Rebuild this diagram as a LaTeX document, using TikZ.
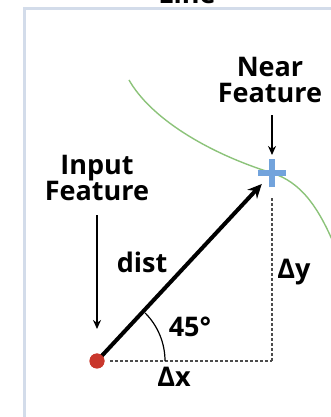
\documentclass[tikz,border=0pt]{standalone}
\usepackage{fontspec}
\setmainfont{Open Sans}
\usetikzlibrary{arrows.meta, shapes.misc}
\definecolor{framegray}{HTML}{D3DCEA}
\definecolor{curvegreen}{HTML}{8CC37A}
\definecolor{dotred}{HTML}{C9372C}
\definecolor{plusblue}{HTML}{72A3DC}
\tikzstyle{label} = [inner sep=0pt, align=center, font=\bfseries\fontsize{13.5}{13}\selectfont]
\tikzstyle{inputdot} = [circle, fill=dotred, inner sep=0pt, minimum size=7.5pt]
\tikzstyle{nearmark} = [cross out, draw=plusblue, line width=2.6pt, rotate=45, inner sep=0pt, minimum size=7.5pt]
\tikzstyle{pointer} = [line width=1pt, -{Stealth[length=4.5pt,width=4pt]}]
\tikzstyle{distarrow} = [line width=2pt, -{Stealth[length=7pt,width=6.5pt]}]
\tikzstyle{guide} = [line width=0.8pt, draw=black!70, dash pattern=on 1.5pt off 1pt]

\begin{document}
\begin{tikzpicture}[x=0.5pt, y=0.5pt]
\useasboundingbox (0,0) rectangle (331,417);

% frame and curve
\draw [framegray, line width=1.5pt] (24,-5) -- (24,408) -- (340,408);
\node (title) [label, anchor=base] at (187,413) {Line};
\draw [curvegreen, line width=0.7pt] (129,337) .. controls (150,300) and (205,265) .. (272,244)
  .. controls (300,235) and (318,212) .. (336,168);

\node (input) [inputdot] at (97,56) {};
\node (near) [nearmark] at (272,244) {};
\coordinate (corner) at (272,56);

\node (nearlbl) [label] at (270,337) {Near\\Feature};
\node (inlbl) [label] at (97,239) {Input\\Feature};

\draw [guide, shorten <=6.5pt] (input.center) -- (corner);
\draw [guide, shorten >=12.5pt] (corner) -- (near.center);
\draw [distarrow, shorten >=7.5pt] (input.center) -- (near.center);
\node (inputtop) [inputdot] at (input) {};
\draw [line width=0.6pt] (input.center) ++(68,0) arc[start angle=0, end angle=45, radius=68];

\draw [pointer, shorten <=6pt, shorten >=9pt] (nearlbl.south -| near) -- (near.center);
\draw [pointer, shorten <=7pt, shorten >=16pt] (inlbl.south -| input) -- (input.center);

\node (dist) [label, anchor=base] at (142,144) {dist};
\node (angle) [label, anchor=base] at (190,80) {45°};
\node (dx) [label, anchor=base] at (174,30) {Δx};
\node (dy) [label, anchor=base] at (294,138) {Δy};
\end{tikzpicture}
\end{document}
